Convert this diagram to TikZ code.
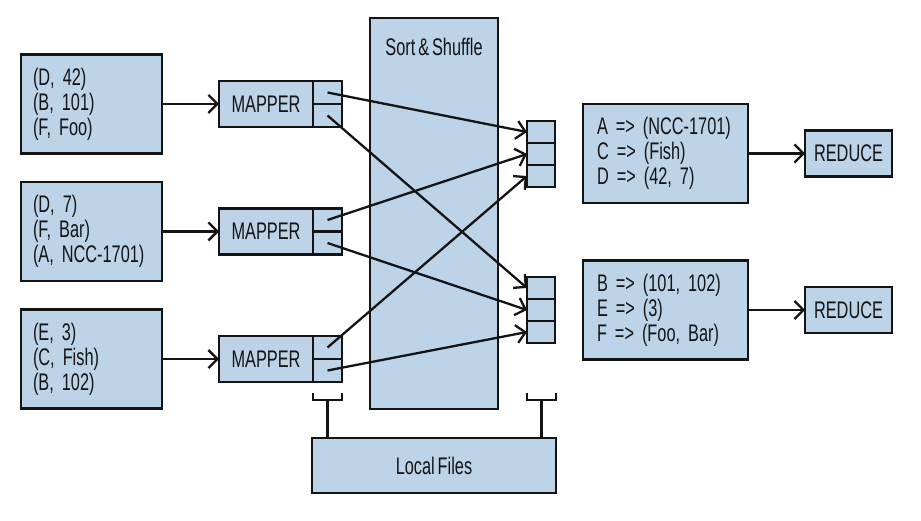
\documentclass[tikz,border=0pt]{standalone}
\usepackage{fontspec}
\setmainfont{Liberation Sans}[FakeStretch=0.68, WordSpace=0.65]
\frenchspacing
\usetikzlibrary{arrows.meta}
\definecolor{boxfill}{RGB}{188,211,232}
\definecolor{inkcol}{RGB}{20,20,20}
\begin{document}
\begin{tikzpicture}[x=1pt,y=-1pt,
  box/.style={draw=inkcol, fill=boxfill, line width=2.6pt, inner sep=0pt, outer sep=0pt, rectangle},
  txt/.style={font=\frenchspacing\fontsize{24}{25}\selectfont, text=inkcol},
  inbox/.style={box, txt, minimum height=99pt, text width=117pt, inner xsep=12pt, align=left},
  outbox/.style={box, txt, minimum height=99pt, text width=137pt, inner xsep=14pt, align=left},
  mapbox/.style={box, txt, minimum width=94pt, minimum height=46pt},
  cellbox/.style={box, minimum width=29pt, minimum height=23pt},
  stackcell/.style={box, minimum width=28pt, minimum height=22pt},
  redbox/.style={box, txt, minimum width=87pt, minimum height=46pt},
  lnk/.style={draw=inkcol, line width=2.3pt},
  arr/.style={lnk, -{Straight Barb[length=9pt,width=18pt,line width=2.3pt]}}
]
\useasboundingbox (0,0) rectangle (921,521);

% Sort & Shuffle
\node[box, minimum width=128pt, minimum height=391pt] (ss) at (434,213.5) {};
\node[txt] (sslabel) at (434,47) {Sort \& Shuffle};

% inputs
\node[inbox] (in1) at (91.5,104) {(D, 42)\\(B, 101)\\(F, Foo)};
\node[inbox] (in2) at (91.5,231.5) {(D, 7)\\(F, Bar)\\(A, NCC-1701)};
\node[inbox] (in3) at (91.5,359) {(E, 3)\\(C, Fish)\\(B, 102)};

% mappers
\foreach \i/\y in {1/104,2/231.5,3/359}{
  \node[mapbox] (m\i) at (266,\y) {MAPPER};
  \node[cellbox, anchor=north west] (m\i a) at (m\i.north east) {};
  \node[cellbox, anchor=south west] (m\i b) at (m\i.south east) {};
}

% partition stacks
\node[stackcell] (t1) at (541,132) {};
\node[stackcell] (t2) at (541,154) {};
\node[stackcell] (t3) at (541,176) {};
\node[stackcell] (b1) at (541,288) {};
\node[stackcell] (b2) at (541,310) {};
\node[stackcell] (b3) at (541,332) {};

% results
\node[outbox] (r1) at (665.5,153.5) {A => (NCC-1701)\\C => (Fish)\\D => (42, 7)};
\node[outbox] (r2) at (665.5,310) {B => (101, 102)\\E => (3)\\F => (Foo, Bar)};

% reducers
\node[redbox] (red1) at (848.5,153.5) {REDUCE};
\node[redbox] (red2) at (848.5,310) {REDUCE};

% local files
\node[box, txt, minimum width=244pt, minimum height=55pt] (lf) at (434,465.5) {Local Files};

% input arrows
\draw[arr] (in1.east) -- (m1.west);
\draw[arr] (in2.east) -- (m2.west);
\draw[arr] (in3.east) -- (m3.west);

% shuffle arrows
\draw[arr] (m1a.center) -- (t1.west);
\draw[arr] (m1b.center) -- (b1.west);
\draw[arr] (m2a.center) -- (t2.west);
\draw[arr] (m2b.center) -- (b2.west);
\draw[arr] (m3a.center) -- (t3.west);
\draw[arr] (m3b.center) -- (b3.west);

% result arrows
\draw[arr] (r1.east) -- (red1.west);
\draw[arr] (r2.east) -- (red2.west);

% brackets to local files
\coordinate (bl) at (327.5,400);
\coordinate (br) at (541.5,400);
\draw[lnk] (313,393) -- (313,400) -- (342,400) -- (342,393);
\draw[lnk] (527,393) -- (527,400) -- (556,400) -- (556,393);
\draw[lnk] (bl) -- (bl |- lf.north);
\draw[lnk] (br) -- (br |- lf.north);
\end{tikzpicture}
\end{document}
